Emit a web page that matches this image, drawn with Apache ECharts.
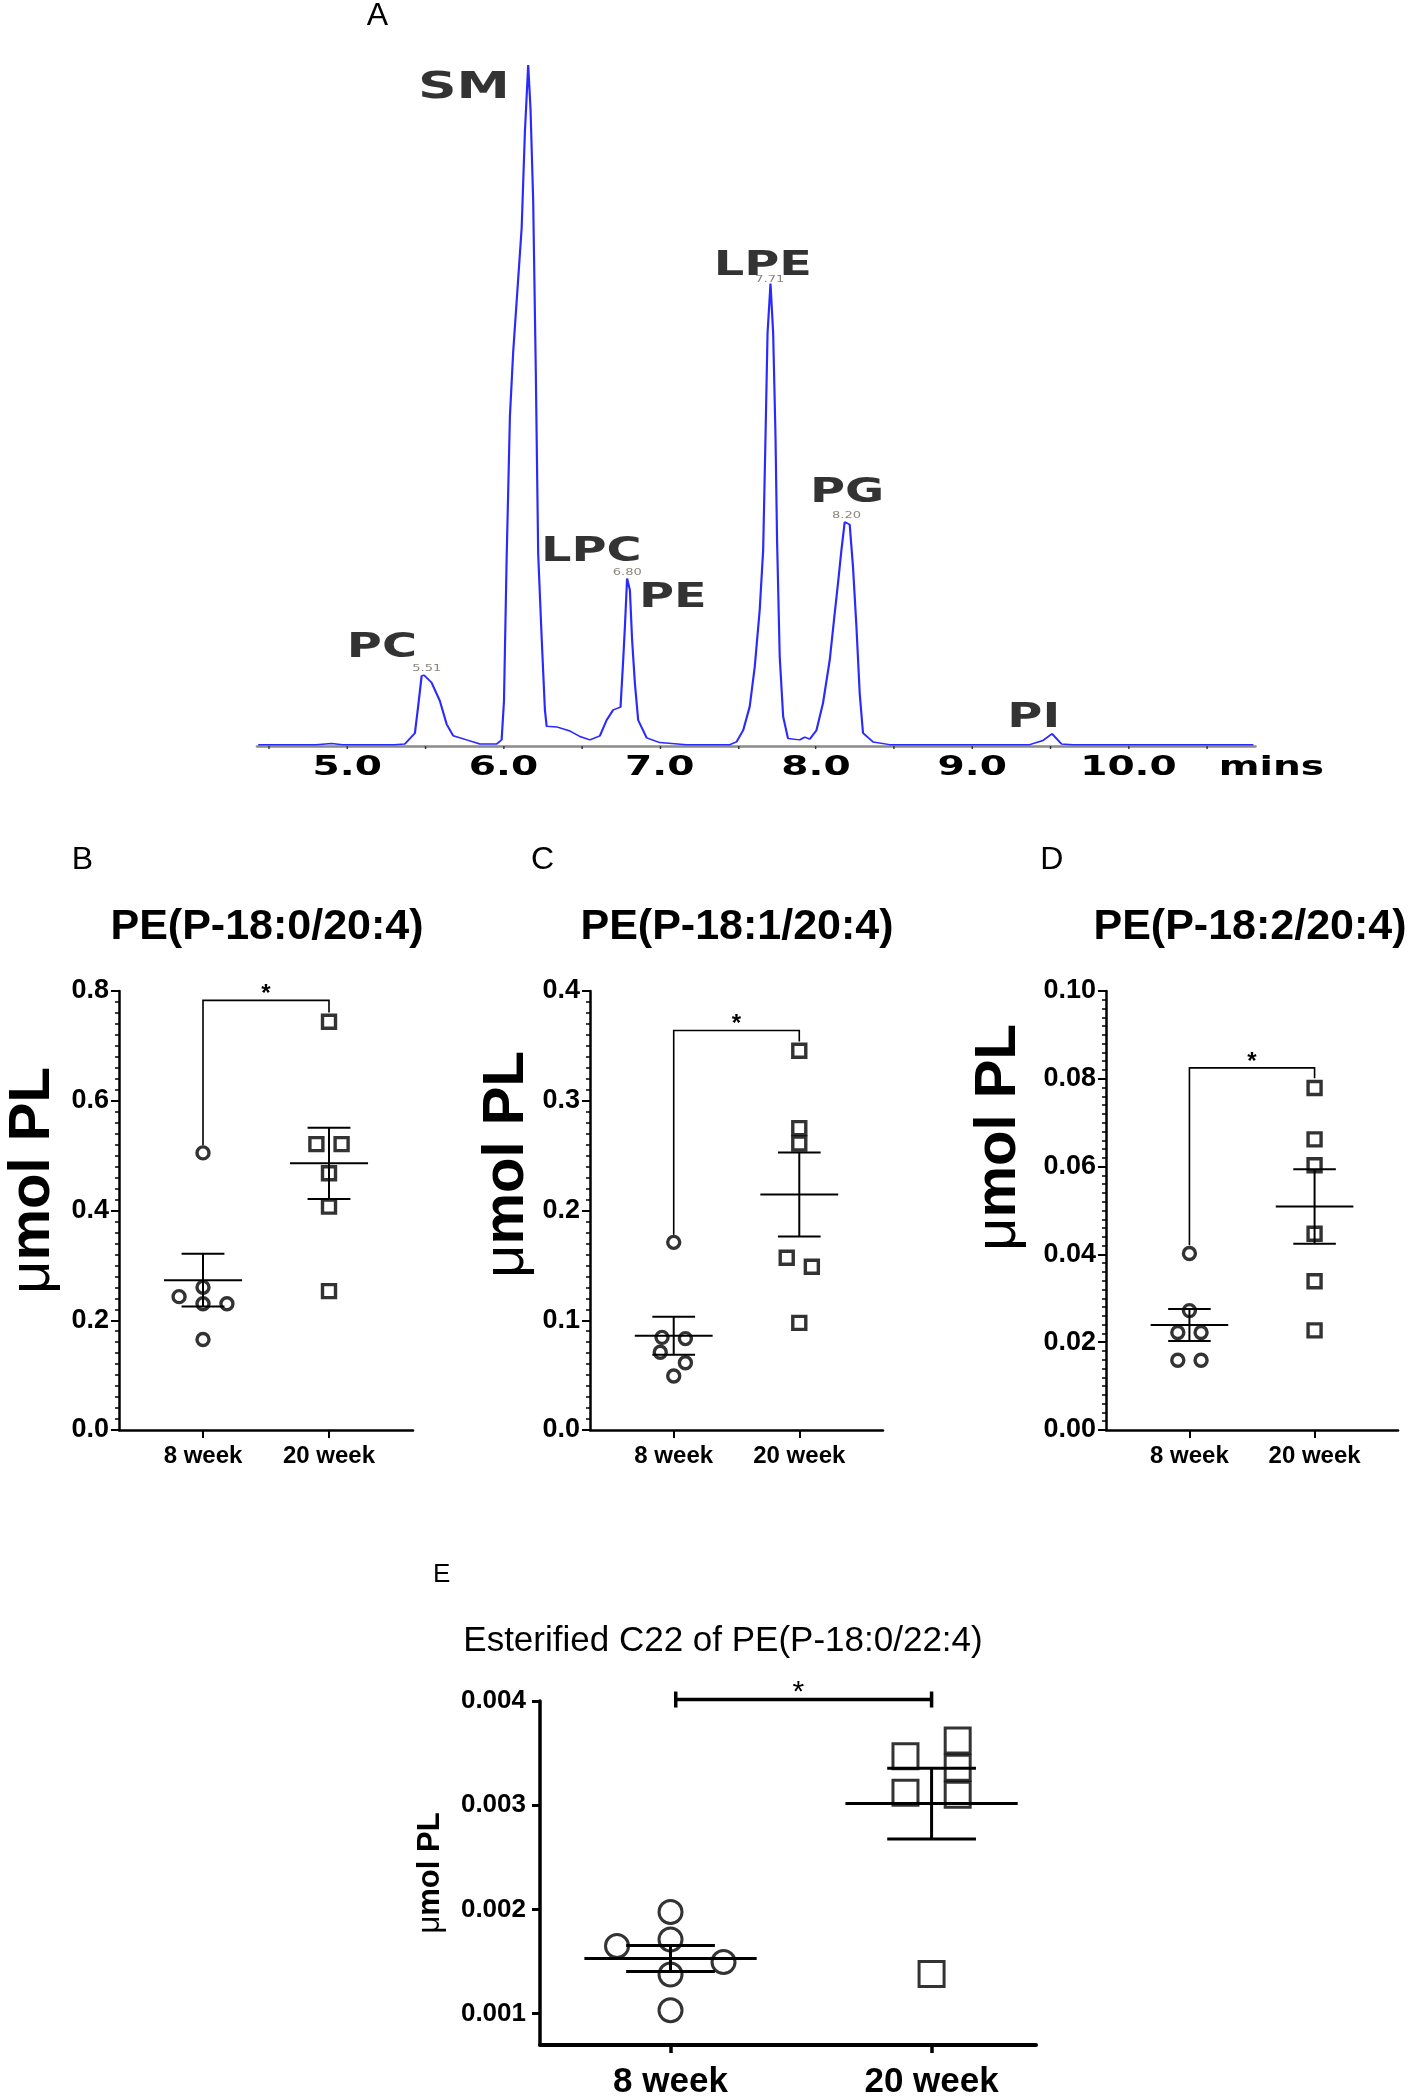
<!DOCTYPE html>
<html>
<head>
<meta charset="utf-8">
<script src="https://cdn.jsdelivr.net/npm/echarts@6/dist/echarts.min.js"></script>
<style>
html,body{margin:0;padding:0;background:#fff;}
#main{position:absolute;left:0;top:0;width:1411px;height:2100px;}
#chromA{position:absolute;left:0;top:0;width:973px;height:800px;transform:scaleX(1.45);transform-origin:0 0;}
</style>
</head>
<body>
<div id="main"></div>
<div id="chromA"></div>
<script>
// ---------------- DATA ----------------
// Panel A: chromatogram trace (time in min, relative signal)
const chromTime = [4.43, 4.50, 4.80, 4.90, 4.97, 5.10, 5.30, 5.369, 5.433, 5.454, 5.476, 5.491, 5.540, 5.593, 5.636, 5.678, 5.764, 5.849, 5.956, 5.988,
  6.003, 6.020, 6.041, 6.062, 6.088, 6.116, 6.137, 6.158, 6.173, 6.190, 6.207, 6.222, 6.244, 6.265, 6.276, 6.340, 6.425, 6.489, 6.553, 6.617,
  6.660, 6.702, 6.749, 6.766, 6.777, 6.791, 6.809, 6.823, 6.841, 6.862, 6.916, 7.001, 7.171, 7.449, 7.491, 7.534, 7.576, 7.608, 7.640, 7.662,
  7.677, 7.690, 7.709, 7.726, 7.741, 7.751, 7.768, 7.790, 7.821, 7.896, 7.928, 7.960, 8.003, 8.045, 8.088, 8.120, 8.141, 8.163, 8.184, 8.216,
  8.237, 8.259, 8.280, 8.301, 8.365, 8.472, 9.000, 9.368, 9.453, 9.511, 9.571, 9.645, 10.20, 10.80];
const chromSignal = [0.2, 0.2, 0.2, 0.35, 0.2, 0.2, 0.2, 0.3, 1.9, 5.9, 10.3, 10.4, 9.3, 6.6, 3.2, 1.5, 0.9, 0.3, 0.3, 0.9,
  6.6, 27.5, 48.4, 57.9, 66.6, 76.0, 90.2, 100, 93.5, 80.0, 54.5, 28.2, 16.0, 5.3, 2.9, 2.8, 2.2, 1.4, 0.9, 1.5,
  3.8, 5.3, 5.7, 12.6, 17.5, 24.6, 22.9, 15.6, 9.2, 3.8, 1.2, 0.5, 0.2, 0.2, 0.6, 2.3, 5.8, 11.6, 20.0, 28.8,
  45.4, 60.6, 67.9, 60.6, 45.4, 30.2, 13.1, 4.3, 1.1, 0.9, 1.3, 1.0, 2.3, 6.3, 12.6, 19.5, 23.9, 28.8, 32.9, 32.5,
  26.3, 17.5, 7.7, 1.9, 0.6, 0.2, 0.2, 0.2, 0.8, 1.8, 0.3, 0.2, 0.2, 0.2];
const peakNames = ['PC', 'SM', 'LPC', 'PE', 'LPE', 'PG', 'PI'];
const peakTime = [5.491, 6.158, 6.791, 6.791, 7.709, 8.184, 9.511];
const peakSignal = [10.4, 100, 24.6, 24.6, 67.9, 32.9, 1.8];
const rtLabels = ['5.51', '6.80', '7.71', '8.20'];
const rtTime = [5.491, 6.791, 7.709, 8.184];
const rtSignal = [10.4, 24.6, 67.9, 32.9];
const chromTicks = [5, 6, 7, 8, 9, 10];
const chromMinorTicks = [4.5, 5, 5.5, 6, 6.5, 7, 7.5, 8, 8.5, 9, 9.5, 10, 10.5];

// Panels B-E
const groups = ['8 week', '20 week'];

const bTitle = 'PE(P-18:0/20:4)';
const b8 = [0.505, 0.243, 0.260, 0.230, 0.230, 0.165];
const b8x = [0, -0.19, 0, 0, 0.19, 0];
const b20 = [0.744, 0.521, 0.521, 0.468, 0.407, 0.253];
const b20x = [0, -0.10, 0.10, 0, 0, 0];
const bMean = [0.273, 0.486];
const bSem = [0.048, 0.065];
const bBracket = [0.783, 0.519, 0.761, 0.805]; // top, left leg end, right leg end, star
const bTicks = [0, 0.2, 0.4, 0.6, 0.8];

const cTitle = 'PE(P-18:1/20:4)';
const c8 = [0.171, 0.0844, 0.0833, 0.0708, 0.0613, 0.0492];
const c8x = [0, -0.093, 0.093, -0.107, 0.093, 0];
const c20 = [0.3455, 0.2751, 0.2611, 0.157, 0.1487, 0.0976];
const c20x = [0, 0, 0, -0.10, 0.10, 0];
const cMean = [0.0859, 0.2146];
const cSem = [0.0174, 0.0382];
const cBracket = [0.364, 0.178, 0.354, 0.375];
const cTicks = [0, 0.1, 0.2, 0.3, 0.4];

const dTitle = 'PE(P-18:2/20:4)';
const d8 = [0.0402, 0.0272, 0.0222, 0.0222, 0.0159, 0.0159];
const d8x = [0, 0, -0.093, 0.093, -0.093, 0.093];
const d20 = [0.0779, 0.0662, 0.0603, 0.0447, 0.0339, 0.0227];
const d20x = [0, 0, 0, 0, 0, 0];
const dMean = [0.0239, 0.0509];
const dSem = [0.00365, 0.00847];
const dBracket = [0.0825, 0.0421, 0.0801, 0.085];
const dTicks = [0, 0.02, 0.04, 0.06, 0.08, 0.10];

const eTitle = 'Esterified C22 of PE(P-18:0/22:4)';
const e8 = [0.001976, 0.001712, 0.00165, 0.001496, 0.001376, 0.001033];
const e8x = [0, 0, -0.205, 0.203, 0, 0];
const e20 = [0.00347, 0.00362, 0.00336, 0.00312, 0.00310, 0.00138];
const e20x = [-0.10, 0.10, 0.10, -0.10, 0.10, 0];
const eMean = [0.00153, 0.003016];
const eSem = [0.000125, 0.000339];
const eBracket = [1.02, 2.0, 0.004014, 1.49, 0.00415]; // x1, x2, y, starX, starY
const eTicks = [0.001, 0.002, 0.003, 0.004];

// ---------------- HELPERS ----------------
const ARIAL = '"Liberation Sans", Arial, sans-serif';
const VERD = '"DejaVu Sans", Verdana, sans-serif';

function errRender(hw, cw, lw) {
  return function (params, api) {
    const g = api.value(0), m = api.value(1), s = api.value(2);
    const seg = (p, q) => ({ type: 'line', shape: { x1: p[0], y1: p[1], x2: q[0], y2: q[1] }, style: { stroke: '#000', lineWidth: lw } });
    return {
      type: 'group', children: [
        seg(api.coord([g - hw, m]), api.coord([g + hw, m])),
        seg(api.coord([g, m + s]), api.coord([g, m - s])),
        seg(api.coord([g - cw, m + s]), api.coord([g + cw, m + s])),
        seg(api.coord([g - cw, m - s]), api.coord([g + cw, m - s]))
      ]
    };
  };
}
function bracketRender(lw, font, shift) {
  return function (params, api) {
    const top = api.value(2), le = api.value(3), re = api.value(4), sy = api.value(5);
    const p1 = api.coord([1, le]), p2 = api.coord([1, top]), p3 = api.coord([2, top]), p4 = api.coord([2, re]);
    const s = api.coord([1.5, sy]);
    return {
      type: 'group', children: [
        { type: 'polyline', shape: { points: [p1, p2, p3, p4] }, style: { stroke: '#000', lineWidth: lw, fill: 'none' } },
        { type: 'text', x: s[0], y: s[1] + shift, style: { text: '*', font: font, fill: '#000', align: 'center', verticalAlign: 'middle', textAlign: 'center', textVerticalAlign: 'middle' } }
      ]
    };
  };
}
function bracketRenderE(lw, cap, font, shift) {
  return function (params, api) {
    const x1 = api.value(0), x2 = api.value(1), y = api.value(2), sx = api.value(3), sy = api.value(4);
    const a = api.coord([x1, y]), b = api.coord([x2, y]), s = api.coord([sx, sy]);
    const st = () => ({ stroke: '#000', lineWidth: lw });
    return {
      type: 'group', children: [
        { type: 'line', shape: { x1: a[0], y1: a[1], x2: b[0], y2: b[1] }, style: st() },
        { type: 'line', shape: { x1: a[0], y1: a[1] - cap, x2: a[0], y2: a[1] + cap }, style: st() },
        { type: 'line', shape: { x1: b[0], y1: b[1] - cap, x2: b[0], y2: b[1] + cap }, style: st() },
        { type: 'text', x: s[0], y: s[1] + shift, style: { text: '*', font: font, fill: '#000', align: 'center', verticalAlign: 'middle', textAlign: 'center', textVerticalAlign: 'middle' } }
      ]
    };
  };
}
function txt(text, x, y, font) {
  return { type: 'text', x: x, y: y, silent: true, style: { text: text, font: font, fill: '#000', align: 'center', verticalAlign: 'middle', textAlign: 'center', textVerticalAlign: 'middle' } };
}
const muName = '{mu|\u03bc}{b|mol PL}';
function muRich(size) {
  return {
    mu: { fontFamily: ARIAL, fontSize: size, fontWeight: 'normal', color: '#000' },
    b: { fontFamily: ARIAL, fontSize: size, fontWeight: 'bold', color: '#000' }
  };
}

// ---------------- MAIN CHART (B-E) ----------------
const small = [
  { title: bTitle, tx: 267, grid: { left: 119, right: 998, top: 991, bottom: 670 }, ticks: bTicks, dec: 1,
    g8: b8, x8: b8x, g20: b20, x20: b20x, mean: bMean, sem: bSem, br: bBracket, nameGap: 57, namePad: 60 },
  { title: cTitle, tx: 737, grid: { left: 590, right: 528, top: 991, bottom: 670 }, ticks: cTicks, dec: 1,
    g8: c8, x8: c8x, g20: c20, x20: c20x, mean: cMean, sem: cSem, br: cBracket, nameGap: 54, namePad: 92 },
  { title: dTitle, tx: 1250, grid: { left: 1106, right: 13, top: 991, bottom: 670 }, ticks: dTicks, dec: 2,
    g8: d8, x8: d8x, g20: d20, x20: d20x, mean: dMean, sem: dSem, br: dBracket, nameGap: 78, namePad: 146 }
];

const grids = [], xAxes = [], yAxes = [], series = [];
small.forEach((p, i) => {
  grids.push(p.grid);
  const ymax = p.ticks[p.ticks.length - 1];
  const step = p.ticks[1] - p.ticks[0];
  xAxes.push({
    type: 'value', gridIndex: i, min: 1 / 3, max: 8 / 3,
    axisLine: { show: true, onZero: false, lineStyle: { color: '#000', width: 2.5 } },
    axisTick: { show: true, customValues: [1, 2], length: 8, lineStyle: { color: '#000', width: 2 } },
    axisLabel: { customValues: [1, 2], formatter: v => groups[Math.round(v) - 1], margin: 14, color: '#000', fontFamily: ARIAL, fontWeight: 'bold', fontSize: 24 },
    splitLine: { show: false }
  });
  yAxes.push({
    type: 'value', gridIndex: i, min: 0, max: ymax, interval: step,
    axisLine: { show: true, onZero: false, lineStyle: { color: '#000', width: 2.5 } },
    axisTick: { show: true, length: 8, lineStyle: { color: '#000', width: 2 } },
    minorTick: { show: true, splitNumber: 10, length: 4, lineStyle: { color: '#000', width: 1.5 } },
    axisLabel: { margin: 10, formatter: v => v.toFixed(p.dec), color: '#000', fontFamily: ARIAL, fontWeight: 'bold', fontSize: 27 },
    splitLine: { show: false },
    name: muName, nameLocation: 'middle', nameRotate: 90, nameGap: p.nameGap,
    nameTextStyle: { padding: [0, 0, 0, p.namePad], rich: muRich(58) }
  });
  series.push({
    type: 'custom', xAxisIndex: i, yAxisIndex: i, clip: false, silent: true, z: 2,
    data: [[1, p.mean[0], p.sem[0]], [2, p.mean[1], p.sem[1]]], encode: { x: 0, y: 1 },
    renderItem: errRender(0.31, 0.17, 2)
  });
  series.push({
    type: 'custom', xAxisIndex: i, yAxisIndex: i, clip: false, silent: true, z: 2,
    data: [[1, 2, p.br[0], p.br[1], p.br[2], p.br[3]]], encode: { x: [0, 1], y: 2 },
    renderItem: bracketRender(1.6, 'bold 24px ' + ARIAL, 6)
  });
  series.push({
    type: 'scatter', xAxisIndex: i, yAxisIndex: i, silent: true, z: 3,
    data: p.g8.map((v, k) => [1 + p.x8[k], v]), symbol: 'circle', symbolSize: 12,
    itemStyle: { color: 'rgba(0,0,0,0)', borderColor: '#000', borderWidth: 3.4 }
  });
  series.push({
    type: 'scatter', xAxisIndex: i, yAxisIndex: i, silent: true, z: 3,
    data: p.g20.map((v, k) => [2 + p.x20[k], v]), symbol: 'rect', symbolSize: 13,
    itemStyle: { color: 'rgba(0,0,0,0)', borderColor: '#000', borderWidth: 3.4 }
  });
});

// Panel E
grids.push({ left: 540, right: 375, top: 1701, bottom: 49 });
xAxes.push({
  type: 'value', gridIndex: 3, min: 0.5, max: 2.4,
  axisLine: { show: true, onZero: false, lineStyle: { color: '#000', width: 4 } },
  axisTick: { show: true, customValues: [1, 2], length: 8, lineStyle: { color: '#000', width: 3.5 } },
  axisLabel: { customValues: [1, 2], formatter: v => groups[Math.round(v) - 1], margin: 20, color: '#000', fontFamily: ARIAL, fontWeight: 'bold', fontSize: 35 },
  splitLine: { show: false }
});
yAxes.push({
  type: 'value', gridIndex: 3, min: 0.0007, max: 0.004,
  axisLine: { show: true, onZero: false, lineStyle: { color: '#000', width: 3.5 } },
  axisTick: { show: true, customValues: eTicks, length: 8, lineStyle: { color: '#000', width: 3 } },
  axisLabel: { customValues: eTicks, formatter: v => v.toFixed(3), margin: 14, color: '#000', fontFamily: ARIAL, fontWeight: 'bold', fontSize: 26 },
  splitLine: { show: false },
  name: muName, nameLocation: 'middle', nameRotate: 90, nameGap: 94,
  nameTextStyle: { rich: muRich(31) }
});
series.push({
  type: 'custom', xAxisIndex: 3, yAxisIndex: 3, clip: false, silent: true, z: 2,
  data: [[1, eMean[0], eSem[0]], [2, eMean[1], eSem[1]]], encode: { x: 0, y: 1 },
  renderItem: errRender(0.33, 0.17, 3)
});
series.push({
  type: 'custom', xAxisIndex: 3, yAxisIndex: 3, clip: false, silent: true, z: 2,
  data: [eBracket], encode: { x: [0, 1], y: 2 },
  renderItem: bracketRenderE(3.5, 8, '30px ' + ARIAL, 7)
});
series.push({
  type: 'scatter', xAxisIndex: 3, yAxisIndex: 3, silent: true, z: 3,
  data: e8.map((v, k) => [1 + e8x[k], v]), symbol: 'circle', symbolSize: 23,
  itemStyle: { color: 'rgba(0,0,0,0)', borderColor: '#000', borderWidth: 3 }
});
series.push({
  type: 'scatter', xAxisIndex: 3, yAxisIndex: 3, silent: true, z: 3,
  data: e20.map((v, k) => [2 + e20x[k], v]), symbol: 'rect', symbolSize: 25,
  itemStyle: { color: 'rgba(0,0,0,0)', borderColor: '#000', borderWidth: 3 }
});

const graphics = [
  txt('A', 377.5, 16, '32px ' + ARIAL),
  txt('B', 82.5, 860, '32px ' + ARIAL),
  txt('C', 542.5, 860, '32px ' + ARIAL),
  txt('D', 1051.7, 860, '32px ' + ARIAL),
  txt('E', 441.6, 1575, '26px ' + ARIAL),
  txt(eTitle, 723, 1641, '35px ' + ARIAL)
];
small.forEach(p => graphics.push(txt(p.title, p.tx, 927, 'bold 43px ' + ARIAL)));

const mainChart = echarts.init(document.getElementById('main'));
mainChart.setOption({
  animation: false,
  backgroundColor: '#fff',
  grid: grids,
  xAxis: xAxes,
  yAxis: yAxes,
  series: series,
  graphic: { elements: graphics }
});

// ---------------- PANEL A (chromatogram) ----------------
const peakLabelOffset = [[-29, -29], [-44.3, 19.7], [-24.7, -28.3], [31.5, 17.7], [-5.3, -20.3], [1.7, -30.7], [-12.6, -18]];
const peakLabelSize = [33, 37, 33, 33, 33, 33, 33];
const rtOffset = [[1.9, -7], [0.1, -6.3], [-0.5, -4.3], [1.2, -6.7]];

const chartA = echarts.init(document.getElementById('chromA'), null, { renderer: 'svg' });
chartA.setOption({
  animation: false,
  grid: { left: 177.6, right: 107.5, top: 65, bottom: 54 },
  xAxis: {
    type: 'value', min: 4.4255, max: 10.81,
    axisLine: { show: true, lineStyle: { color: '#8a8a8a', width: 2.5 } },
    axisTick: { show: true, customValues: chromMinorTicks, length: 3, lineStyle: { color: '#333', width: 1 } },
    axisLabel: { customValues: chromTicks, formatter: v => v.toFixed(1), margin: 6, color: '#000', fontFamily: VERD, fontWeight: 'bold', fontSize: 27 },
    splitLine: { show: false },
    name: 'mins', nameLocation: 'end', nameGap: -25,
    nameTextStyle: { color: '#000', fontFamily: VERD, fontWeight: 'bold', fontSize: 27, align: 'left', verticalAlign: 'top', padding: [6, 0, 0, 0] }
  },
  yAxis: { type: 'value', min: 0, max: 100, show: false },
  series: [
    {
      type: 'line', silent: true, clip: false, symbol: 'none',
      data: chromTime.map((t, i) => [t, chromSignal[i]]),
      lineStyle: { color: '#2a2aff', width: 1.5 }
    },
    {
      type: 'scatter', silent: true, clip: false, symbolSize: 1, itemStyle: { color: 'rgba(0,0,0,0)' },
      data: peakNames.map((n, i) => ({ name: n, value: [peakTime[i], peakSignal[i]], label: { offset: peakLabelOffset[i], fontSize: peakLabelSize[i] } })),
      label: { show: true, position: 'inside', formatter: '{b}', color: '#000', fontFamily: VERD, fontWeight: 'bold', align: 'center', verticalAlign: 'middle' }
    },
    {
      type: 'scatter', silent: true, clip: false, symbolSize: 1, itemStyle: { color: 'rgba(0,0,0,0)' },
      data: rtLabels.map((n, i) => ({ name: n, value: [rtTime[i], rtSignal[i]], label: { offset: rtOffset[i] } })),
      label: { show: true, position: 'inside', formatter: '{b}', color: '#6e665a', fontFamily: VERD, fontSize: 9, align: 'center', verticalAlign: 'middle' }
    }
  ]
});
</script>
</body>
</html>
